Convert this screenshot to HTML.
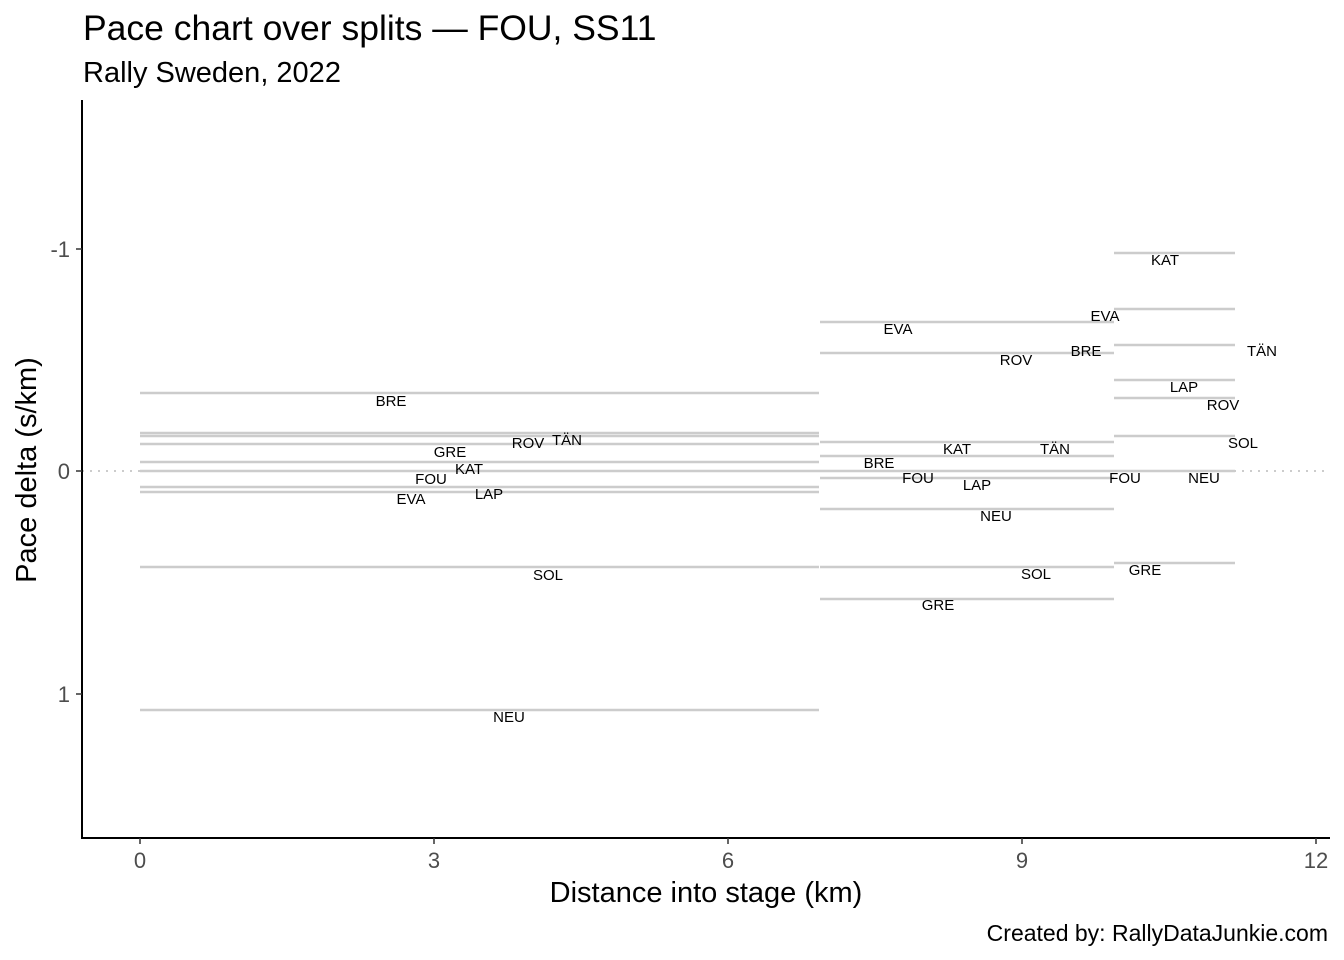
<!DOCTYPE html>
<html><head><meta charset="utf-8"><style>body{margin:0;background:#fff}svg{display:block}</style></head><body>
<svg width="1344" height="960" xmlns="http://www.w3.org/2000/svg" font-family="Liberation Sans, Arial, sans-serif">
<rect width="1344" height="960" fill="#fff"/>
<text x="83" y="40" font-size="35.5">Pace chart over splits — FOU, SS11</text>
<text x="83" y="82" font-size="29">Rally Sweden, 2022</text>
<line x1="82" y1="471" x2="1330" y2="471" stroke="#ccc" stroke-width="2" stroke-dasharray="2,6"/>
<g stroke="#cccccc" stroke-width="2.5">
<line x1="140" x2="819" y1="393" y2="393"/>
<line x1="140" x2="819" y1="433" y2="433"/>
<line x1="140" x2="819" y1="436" y2="436"/>
<line x1="140" x2="819" y1="444" y2="444"/>
<line x1="140" x2="819" y1="462" y2="462"/>
<line x1="140" x2="1235" y1="471" y2="471"/>
<line x1="140" x2="819" y1="487" y2="487"/>
<line x1="140" x2="819" y1="492" y2="492"/>
<line x1="140" x2="819" y1="567" y2="567"/>
<line x1="140" x2="819" y1="710" y2="710"/>
<line x1="820" x2="1114" y1="322" y2="322"/>
<line x1="820" x2="1114" y1="353" y2="353"/>
<line x1="820" x2="1114" y1="442" y2="442"/>
<line x1="820" x2="1114" y1="456" y2="456"/>
<line x1="820" x2="1114" y1="478" y2="478"/>
<line x1="820" x2="1114" y1="509" y2="509"/>
<line x1="820" x2="1114" y1="567" y2="567"/>
<line x1="820" x2="1114" y1="599" y2="599"/>
<line x1="1114" x2="1235" y1="253" y2="253"/>
<line x1="1114" x2="1235" y1="309" y2="309"/>
<line x1="1114" x2="1235" y1="345" y2="345"/>
<line x1="1114" x2="1235" y1="380" y2="380"/>
<line x1="1114" x2="1235" y1="398" y2="398"/>
<line x1="1114" x2="1235" y1="436" y2="436"/>
<line x1="1114" x2="1235" y1="563" y2="563"/>
</g>
<g font-size="15" text-anchor="middle" fill="#000">
<text x="391" y="406">BRE</text><text x="450" y="457">GRE</text><text x="528" y="448">ROV</text><text x="567" y="445">TÄN</text>
<text x="469" y="474">KAT</text><text x="431" y="484">FOU</text><text x="411" y="504">EVA</text><text x="489" y="499">LAP</text>
<text x="548" y="580">SOL</text><text x="509" y="722">NEU</text>
<text x="898" y="334">EVA</text><text x="1016" y="365">ROV</text><text x="1086" y="356">BRE</text><text x="1105" y="321">EVA</text>
<text x="957" y="454">KAT</text><text x="1055" y="454">TÄN</text><text x="879" y="468">BRE</text><text x="918" y="483">FOU</text>
<text x="977" y="490">LAP</text><text x="996" y="521">NEU</text><text x="1036" y="579">SOL</text><text x="938" y="610">GRE</text>
<text x="1165" y="265">KAT</text><text x="1262" y="356">TÄN</text><text x="1184" y="392">LAP</text><text x="1223" y="410">ROV</text>
<text x="1243" y="448">SOL</text><text x="1125" y="483">FOU</text><text x="1204" y="483">NEU</text><text x="1145" y="575">GRE</text>
</g>
<g stroke="#000" stroke-width="2">
<line x1="82" y1="100" x2="82" y2="839"/>
<line x1="81" y1="838" x2="1330" y2="838"/>
</g>
<g stroke="#333" stroke-width="1.5">
<line x1="76" x2="82" y1="249" y2="249"/><line x1="76" x2="82" y1="471" y2="471"/><line x1="76" x2="82" y1="694" y2="694"/>
<line x1="140" x2="140" y1="838" y2="844"/><line x1="434" x2="434" y1="838" y2="844"/><line x1="728" x2="728" y1="838" y2="844"/><line x1="1022" x2="1022" y1="838" y2="844"/><line x1="1316" x2="1316" y1="838" y2="844"/>
</g>
<g font-size="22" fill="#4d4d4d">
<text x="70" y="257" text-anchor="end">-1</text><text x="70" y="479" text-anchor="end">0</text><text x="70" y="702" text-anchor="end">1</text>
<text x="140" y="868" text-anchor="middle">0</text><text x="434" y="868" text-anchor="middle">3</text><text x="728" y="868" text-anchor="middle">6</text><text x="1022" y="868" text-anchor="middle">9</text><text x="1316" y="868" text-anchor="middle">12</text>
</g>
<text x="706" y="902" font-size="29" text-anchor="middle">Distance into stage (km)</text>
<text transform="translate(36,470) rotate(-90)" font-size="29" text-anchor="middle">Pace delta (s/km)</text>
<text x="1328" y="941" font-size="23" text-anchor="end">Created by: RallyDataJunkie.com</text>
</svg>
</body></html>
